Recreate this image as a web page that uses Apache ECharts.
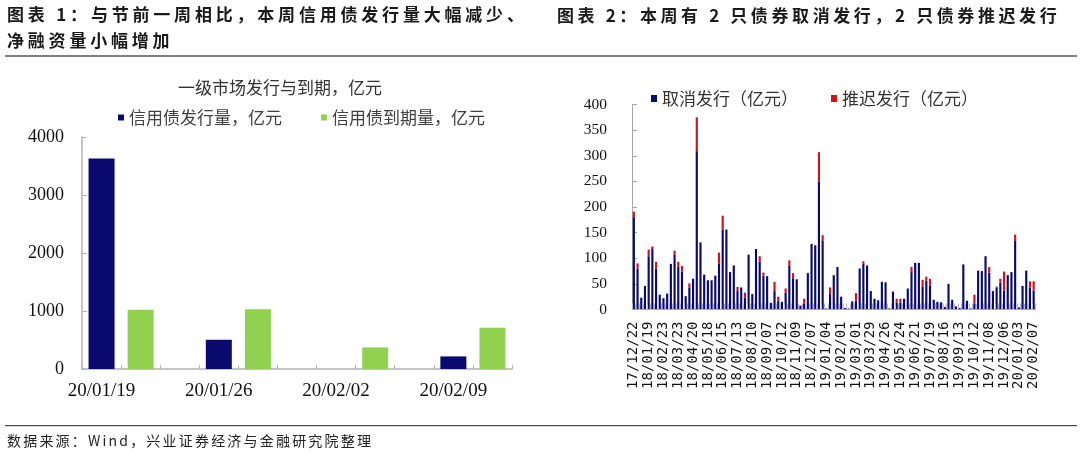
<!DOCTYPE html>
<html>
<head>
<meta charset="utf-8">
<script src="https://cdn.jsdelivr.net/npm/echarts@6/dist/echarts.min.js"></script>
<style>
html,body{margin:0;padding:0;background:#fff;}
#wrap{position:relative;width:1080px;height:453px;overflow:hidden;background:#fff;}
#chart{position:absolute;left:0;top:0;width:1080px;height:453px;}
.hd{position:absolute;font-family:"Noto Sans CJK SC";font-weight:bold;font-size:17px;letter-spacing:3.8px;color:#1a1a1a;white-space:nowrap;line-height:20px;}
.ft{position:absolute;font-family:"Noto Sans CJK SC";font-size:14px;letter-spacing:2.2px;color:#222;white-space:nowrap;line-height:18px;}
</style>
</head>
<body>
<div id="wrap">
  <div id="chart"></div>
  <div class="hd" style="left:7px;top:4px;">图表 1：与节前一周相比，本周信用债发行量大幅减少、</div>
  <div class="hd" style="left:7px;top:30px;">净融资量小幅增加</div>
  <div class="hd" style="left:557px;top:5px;letter-spacing:3.6px;">图表 2：本周有 2 只债券取消发行，2 只债券推迟发行</div>
  <div class="ft" style="left:7px;top:431px;">数据来源：Wind，兴业证券经济与金融研究院整理</div>
</div>
<script>
// ---------- Chart 1 data ----------
const weeks = ['20/01/19', '20/01/26', '20/02/02', '20/02/09'];
const issuance = [3630, 504, 0, 217];   // 信用债发行量，亿元
const maturity = [1020, 1032, 372, 710]; // 信用债到期量，亿元
const leftTicks = [0, 1000, 2000, 3000, 4000];

// ---------- Chart 2 data ----------
const dates = [
 '17/12/22','17/12/29','18/01/05','18/01/12','18/01/19','18/01/26','18/02/02','18/02/09',
 '18/02/23','18/03/02','18/03/09','18/03/16','18/03/23','18/03/30','18/04/04','18/04/13',
 '18/04/20','18/04/27','18/05/04','18/05/11','18/05/18','18/05/25','18/06/01','18/06/08',
 '18/06/15','18/06/22','18/06/29','18/07/06','18/07/13','18/07/20','18/07/27','18/08/03',
 '18/08/10','18/08/17','18/08/24','18/08/31','18/09/07','18/09/14','18/09/21','18/09/28',
 '18/10/12','18/10/19','18/10/26','18/11/02','18/11/09','18/11/16','18/11/23','18/11/30',
 '18/12/07','18/12/14','18/12/21','18/12/28','19/01/04','19/01/11','19/01/18','19/01/25',
 '19/02/01','19/02/03','19/02/15','19/02/22','19/03/01','19/03/08','19/03/15','19/03/22',
 '19/03/29','19/04/04','19/04/12','19/04/19','19/04/26','19/05/05','19/05/10','19/05/17',
 '19/05/24','19/05/31','19/06/06','19/06/14','19/06/21','19/06/28','19/07/05','19/07/12',
 '19/07/19','19/07/26','19/08/02','19/08/09','19/08/16','19/08/23','19/08/30','19/09/06',
 '19/09/13','19/09/20','19/09/27','19/09/29','19/10/12','19/10/18','19/10/25','19/11/01',
 '19/11/08','19/11/15','19/11/22','19/11/29','19/12/06','19/12/13','19/12/20','19/12/27',
 '20/01/03','20/01/10','20/01/17','20/01/23','20/02/07'
];
const cancelled = [ // 取消发行（亿元）
 180, 80, 23, 46, 104, 118, 80, 29, 22, 31, 89, 107, 83, 74, 26, 43, 60, 309, 131, 68,
 57, 57, 66, 89, 156, 156, 73, 86, 36, 43, 23, 107, 30, 118, 93, 66, 65, 13, 36, 17,
 15, 33, 85, 61, 59, 7, 12, 71, 128, 124, 250, 135, 2, 30, 67, 83, 25, 3, 2, 16,
 17, 80, 89, 86, 36, 21, 18, 54, 53, 2, 35, 14, 14, 21, 41, 73, 91, 91, 45, 56,
 46, 19, 15, 14, 5, 50, 19, 6, 3, 88, 17, 2, 12, 76, 75, 104, 72, 36, 43, 52,
 37, 67, 73, 135, 4, 46, 76, 43, 37
];
const postponed = [ // 推迟发行（亿元）
 11, 10, 0, 0, 13, 5, 13, 0, 0, 0, 0, 8, 10, 11, 0, 8, 0, 66, 0, 0,
 0, 0, 0, 22, 27, 0, 0, 0, 8, 0, 10, 0, 0, 0, 11, 6, 0, 0, 18, 8,
 0, 8, 11, 10, 0, 1, 9, 0, 0, 2, 57, 10, 0, 13, 0, 0, 0, 0, 0, 0,
 15, 0, 5, 0, 0, 0, 0, 0, 0, 0, 0, 7, 7, 0, 0, 10, 0, 0, 13, 8,
 14, 0, 0, 0, 0, 0, 0, 0, 0, 0, 0, 0, 17, 0, 0, 0, 11, 0, 2, 8,
 37, 0, 0, 11, 0, 0, 0, 12, 18
];

// Build slot layout for chart 1: each week = [issuance slot, maturity slot, empty slot]
const slots = [], issSlots = [], matSlots = [];
weeks.forEach((w, i) => {
  slots.push(w);            issSlots.push(issuance[i]); matSlots.push(null);
  slots.push(w + '#m');     issSlots.push(null);        matSlots.push(maturity[i]);
  if (i < weeks.length - 1) { slots.push(w + '#g'); issSlots.push(null); matSlots.push(null); }
});

const NAVY = '#0a0a6e', GREEN = '#92d050', RED = '#d0121b';
const serif = '"Liberation Serif", "Times New Roman", serif';
const cjk = '"Noto Sans CJK SC", sans-serif';

const chart = echarts.init(document.getElementById('chart'), null, {renderer: 'canvas'});
chart.setOption({
  animation: false,
  backgroundColor: '#fff',
  title: {
    text: '一级市场发行与到期，亿元',
    left: 178, top: 79, padding: 0,
    textStyle: {fontFamily: cjk, fontSize: 17, fontWeight: 'normal', color: '#333'}
  },
  legend: [
    {
      data: ['信用债发行量，亿元', '信用债到期量，亿元'],
      left: 118, top: 109, padding: 0, icon: 'rect', itemWidth: 6, itemHeight: 6, itemGap: 39,
      textStyle: {fontFamily: cjk, fontSize: 17, color: '#404040'}
    },
    {
      data: ['取消发行（亿元）', '推迟发行（亿元）'],
      left: 651, top: 90, padding: 0, icon: 'rect', itemWidth: 6, itemHeight: 7, itemGap: 33,
      textStyle: {fontFamily: cjk, fontSize: 17, color: '#333'}
    }
  ],
  grid: [
    {left: 82, top: 137, width: 430, height: 232, containLabel: false},
    {left: 632, top: 104.5, width: 403.5, height: 205, containLabel: false}
  ],
  xAxis: [
    {
      type: 'category', gridIndex: 0, data: slots, boundaryGap: true,
      axisLine: {lineStyle: {color: '#b3b3b3', width: 1.5}},
      axisTick: {show: true, inside: true, length: 4, interval: 0, lineStyle: {color: '#b3b3b3'}},
      axisLabel: {
        interval: 2, margin: 13, fontFamily: serif, fontSize: 19, color: '#111',
        formatter: (v, idx) => (idx % 3 === 0 ? weeks[idx / 3] : '')
      }
    },
    {
      type: 'category', gridIndex: 1, data: dates, boundaryGap: true, z: 3,
      axisLine: {lineStyle: {color: '#a6a6a6', width: 1}},
      axisTick: {show: true, inside: true, length: 6, interval: 0, lineStyle: {color: '#b4b4cc'}},
      axisLabel: {
        interval: 3, rotate: 90, margin: 12, fontFamily: '"DejaVu Sans Mono", monospace',
        fontSize: 14, color: '#111'
      }
    }
  ],
  yAxis: [
    {
      type: 'value', gridIndex: 0, min: leftTicks[0], max: leftTicks[leftTicks.length - 1], interval: 1000,
      splitLine: {show: false},
      axisLine: {show: true, lineStyle: {color: '#b3b3b3', width: 1.5}},
      axisTick: {show: true, inside: true, length: 5, lineStyle: {color: '#b3b3b3'}},
      axisLabel: {margin: 18, fontFamily: serif, fontSize: 18, color: '#111', formatter: v => String(v)}
    },
    {
      type: 'value', gridIndex: 1, min: 0, max: 400, interval: 50,
      splitLine: {show: false},
      axisLine: {show: true, lineStyle: {color: '#a6a6a6', width: 1}},
      axisTick: {show: true, inside: true, length: 5, lineStyle: {color: '#a6a6a6'}},
      axisLabel: {margin: 25, fontFamily: serif, fontSize: 15.5, color: '#111', formatter: v => String(v)}
    }
  ],
  series: [
    {
      name: '信用债发行量，亿元', type: 'bar', xAxisIndex: 0, yAxisIndex: 0,
      data: issSlots, barWidth: 26, barGap: '-100%', itemStyle: {color: NAVY}
    },
    {
      name: '信用债到期量，亿元', type: 'bar', xAxisIndex: 0, yAxisIndex: 0,
      data: matSlots, barWidth: 26, barGap: '-100%', itemStyle: {color: GREEN}
    },
    {
      name: '取消发行（亿元）', type: 'bar', xAxisIndex: 1, yAxisIndex: 1, stack: 'bonds',
      data: cancelled, barWidth: '58%', itemStyle: {color: NAVY}
    },
    {
      name: '推迟发行（亿元）', type: 'bar', xAxisIndex: 1, yAxisIndex: 1, stack: 'bonds',
      data: postponed, barWidth: '58%', itemStyle: {color: RED}
    }
  ],
  graphic: [
    {type: 'rect', shape: {x: 5, y: 55, width: 1072, height: 2}, style: {fill: '#7f7f7f'}, silent: true},
    {type: 'rect', shape: {x: 5, y: 425, width: 1072, height: 1.2}, style: {fill: '#4d4d4d'}, silent: true}
  ]
});
</script>
</body>
</html>
